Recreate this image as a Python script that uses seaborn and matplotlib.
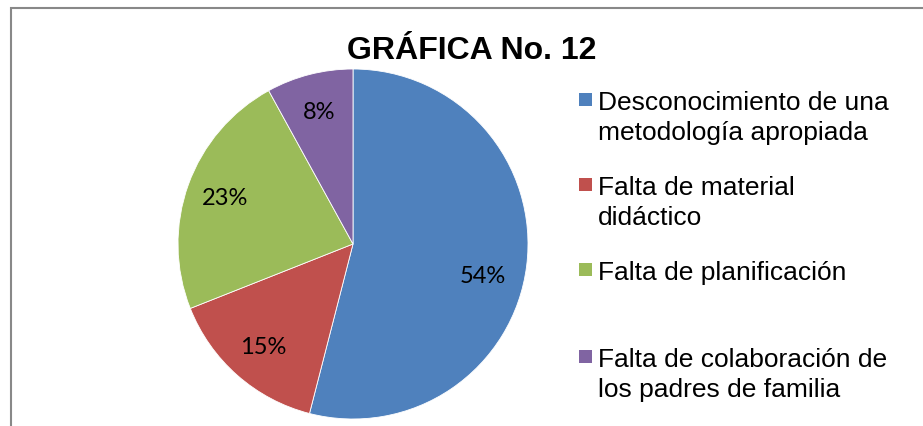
import matplotlib
matplotlib.use("Agg")
import matplotlib.pyplot as plt
import seaborn as sns
from matplotlib.patches import Rectangle

sns.set_theme(style="white")
plt.rcParams['font.family'] = ['Liberation Sans', 'DejaVu Sans']

categories = [
    "Desconocimiento de una\nmetodología apropiada",
    "Falta de material\ndidáctico",
    "Falta de planificación",
    "Falta de colaboración de\nlos padres de familia",
]
values = [54, 15, 23, 8]
colors = ["#4F81BD", "#C0504D", "#9BBB59", "#8064A2"]
title = "GRÁFICA No. 12"

W, H = 923, 427
fig = plt.figure(figsize=(W / 100, H / 100), dpi=100)
fig.patch.set_facecolor("white")

# Chart border (extends beyond the right and bottom of the image)
fig.patches.append(Rectangle((10.5 / W, -0.1), 1.2, (H - 8.5) / H + 0.1,
                             transform=fig.transFigure, fill=False,
                             edgecolor="#888888", linewidth=1.5))

cx, cy, r = 353, 245, 175
ax = fig.add_axes([(cx - r) / W, (H - cy - r) / H, 2 * r / W, 2 * r / H])
wedges, texts, autotexts = ax.pie(
    values, colors=colors, startangle=90, counterclock=False,
    autopct=lambda p: f"{p:.0f}%", pctdistance=0.78,
    wedgeprops=dict(edgecolor="white", linewidth=0.6),
    textprops=dict(fontsize=17, family=['Lato', 'DejaVu Sans'], color="black"),
)
# Excel "best fit" nudges the large slice's label a little lower
autotexts[0].set_position((0.74, -0.18))
ax.set_xlim(-1, 1)
ax.set_ylim(-1, 1)
ax.set_aspect("equal")
ax.axis("off")

fig.text(472 / W, 1 - 59 / H, title, ha="center", va="baseline",
         fontsize=23, fontweight="bold", color="black")

# Legend
first_baselines = [110, 195, 280, 367]
line_gap = 30
for cat, col, b in zip(categories, colors, first_baselines):
    fig.patches.append(Rectangle((579 / W, 1 - (b - 3) / H), 13 / W, 13 / H,
                                 transform=fig.transFigure, facecolor=col,
                                 edgecolor="none"))
    for i, line in enumerate(cat.split("\n")):
        fig.text(598 / W, 1 - (b + i * line_gap) / H, line, ha="left",
                 va="baseline", fontsize=19, color="black")

fig.savefig("out.png", dpi=100)
